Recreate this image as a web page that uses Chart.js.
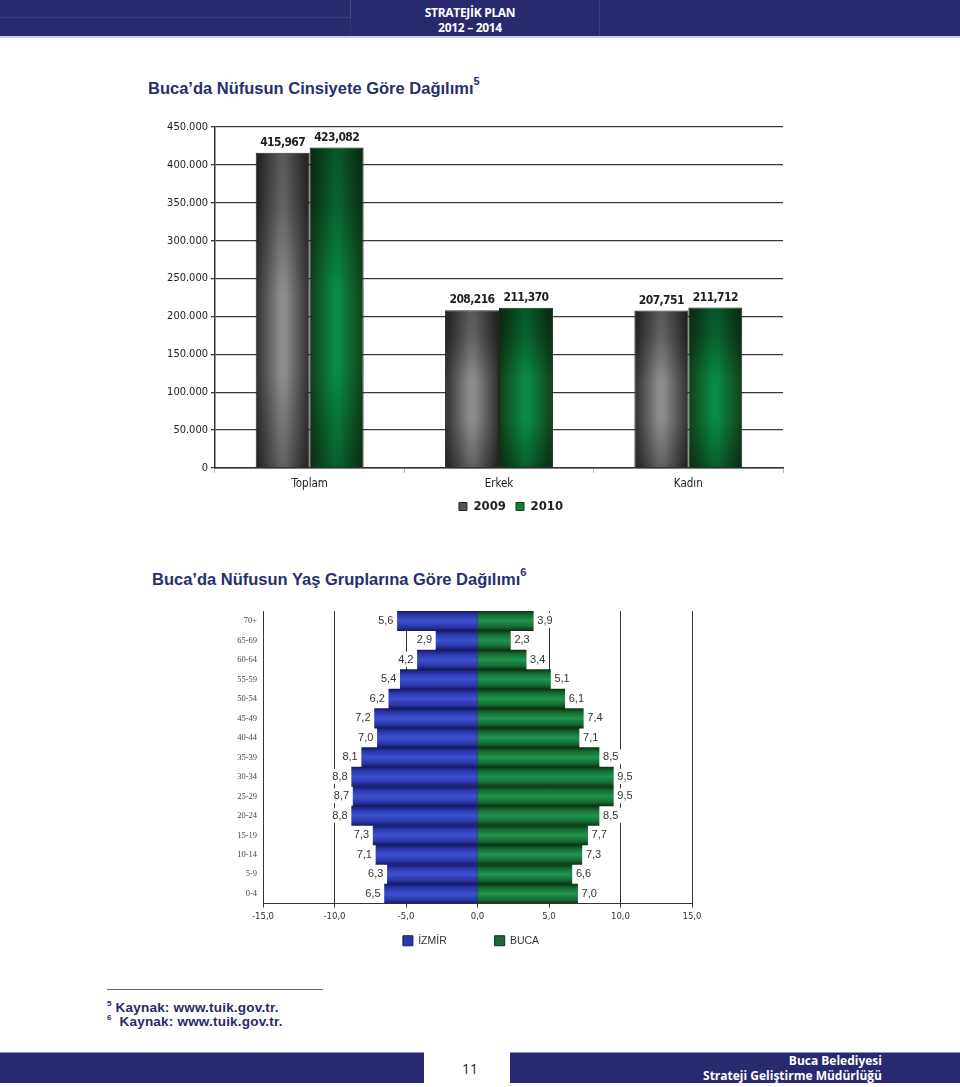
<!DOCTYPE html>
<html><head><meta charset="utf-8">
<script src="https://cdn.jsdelivr.net/npm/chart.js@4.4.1/dist/chart.umd.min.js"></script>
<style>
html,body{margin:0;padding:0;background:#fff;}
body{width:960px;height:1087px;position:relative;overflow:hidden;font-family:"Liberation Sans",Arial,sans-serif;}
.abs{position:absolute;}
#hdr{left:0;top:0;width:960px;height:36px;background:#28296f;border-bottom:2px solid #c9cde6;}
#hdr .p1{position:absolute;left:0;top:0;width:350px;height:17px;border-bottom:1px solid rgba(255,255,255,0.10);border-right:1px solid rgba(255,255,255,0.10);}
#hdr .p2{position:absolute;left:350px;top:0;width:248px;height:36px;border-right:1px solid rgba(255,255,255,0.10);border-left:1px solid rgba(255,255,255,0.06);}
#hdr .t{position:absolute;left:370px;width:200px;text-align:center;color:#fff;font-family:"Open Sans","DejaVu Sans",sans-serif;font-weight:700;font-size:12px;letter-spacing:-0.3px;}
.title{color:#27306e;font-weight:700;font-size:16.5px;font-family:"Liberation Sans",Arial,sans-serif;white-space:nowrap;}
.title sup{font-size:11px;position:relative;top:-2px;}
.fn{color:#27296b;font-weight:700;font-size:13.5px;font-family:"Liberation Sans",Arial,sans-serif;white-space:nowrap;letter-spacing:0.2px;}
.fn sup{font-size:8px;}
.bar{background:#28296f;}
.ft{color:#fff;font-weight:700;font-size:12px;font-family:"Open Sans","DejaVu Sans",sans-serif;text-align:right;white-space:nowrap;}
</style></head>
<body>
<div id="hdr" class="abs"><div class="p1"></div><div class="p2"></div>
<div class="t" style="top:4px;">STRATEJİK PLAN</div>
<div class="t" style="top:19px;">2012 – 2014</div></div>

<div class="abs title" style="left:148px;top:77px;">Buca’da Nüfusun Cinsiyete Göre Dağılımı<sup>5</sup></div>
<div class="abs" style="left:140px;top:112px;width:742px;height:411px;"><canvas id="c1"></canvas></div>

<div class="abs title" style="left:152px;top:568px;">Buca’da Nüfusun Yaş Gruplarına Göre Dağılımı<sup>6</sup></div>
<div class="abs" style="left:215px;top:600px;width:512px;height:356px;"><canvas id="c2"></canvas></div>

<div class="abs" style="left:107px;top:989px;width:216px;height:0;border-top:1.5px solid #666;"></div>
<div class="abs fn" style="left:107px;top:999px;"><sup>5</sup> Kaynak: www.tuik.gov.tr.</div>
<div class="abs fn" style="left:107px;top:1013px;"><sup>6</sup>&nbsp; Kaynak: www.tuik.gov.tr.</div>

<div class="abs bar" style="left:0;top:1052px;width:424px;height:30px;border-top:1px solid #8d90c0;"></div>
<div class="abs" style="left:452px;top:1059px;width:36px;text-align:center;font-size:14px;font-family:'Open Sans','DejaVu Sans',sans-serif;color:#222;">11</div>
<div class="abs bar" style="left:510px;top:1052px;width:450px;height:30px;border-top:1px solid #8d90c0;"></div>
<div class="abs ft" style="left:560px;top:1052px;width:322px;">Buca Belediyesi</div>
<div class="abs ft" style="left:560px;top:1067px;width:322px;">Strateji Geliştirme Müdürlüğü</div>

<script>
// ---- Data: chart 1 ----
const sexCategories = ['Toplam', 'Erkek', 'Kadın'];
const pop2009 = [415967, 208216, 207751];
const pop2010 = [423082, 211370, 211712];
const seriesNames1 = ['2009', '2010'];

// ---- Data: chart 2 ----
const ageGroups = ['70+', '65-69', '60-64', '55-59', '50-54', '45-49', '40-44', '35-39', '30-34', '25-29', '20-24', '15-19', '10-14', '5-9', '0-4'];
const izmirShare = [5.6, 2.9, 4.2, 5.4, 6.2, 7.2, 7.0, 8.1, 8.8, 8.7, 8.8, 7.3, 7.1, 6.3, 6.5];
const bucaShare = [3.9, 2.3, 3.4, 5.1, 6.1, 7.4, 7.1, 8.5, 9.5, 9.5, 8.5, 7.7, 7.3, 6.6, 7.0];
const seriesNames2 = ['İZMİR', 'BUCA'];

const NARROW = '"Liberation Sans Narrow", "DejaVu Sans Condensed", Arial, sans-serif';

// ---------- chart 1 ----------
const CAT_PCT = 0.57;
function hGrad(ctx, stops, fallback) {
  const chart = ctx.chart, xs = chart.scales.x;
  if (!xs || ctx.dataIndex === undefined || !isFinite(xs.width) || xs.width <= 0) return fallback;
  const catW = xs.width / sexCategories.length;
  const bw = catW * CAT_PCT / 2;
  const c = xs.getPixelForValue(ctx.dataIndex) + (ctx.datasetIndex === 0 ? -bw / 2 : bw / 2);
  const g = chart.ctx.createLinearGradient(c - bw / 2, 0, c + bw / 2, 0);
  stops.forEach(s => g.addColorStop(s[0], s[1]));
  return g;
}
const grayStops = [[0, '#2e2e2e'], [0.45, '#8c8c8c'], [0.55, '#8c8c8c'], [1, '#2e2e2e']];
const greenStops = [[0, '#123d1a'], [0.45, '#0a8a42'], [0.55, '#0a8a42'], [1, '#123d1a']];

const valueLabels1 = {
  id: 'valueLabels1',
  afterDatasetsDraw(chart) {
    const c = chart.ctx;
    c.save();
    // vertical shading over each bar (darker top and bottom)
    chart.data.datasets.forEach((ds, di) => {
      chart.getDatasetMeta(di).data.forEach((el) => {
        const top = el.y, bot = el.base, w = el.width;
        const g = c.createLinearGradient(0, top, 0, bot);
        g.addColorStop(0, 'rgba(0,0,0,0.38)');
        g.addColorStop(0.18, 'rgba(0,0,0,0.30)');
        g.addColorStop(0.45, 'rgba(0,0,0,0)');
        g.addColorStop(0.7, 'rgba(0,0,0,0)');
        g.addColorStop(1, 'rgba(0,0,0,0.32)');
        c.fillStyle = g;
        c.fillRect(el.x - w / 2 + 1, top + 1, w - 2, bot - top - 1);
      });
    });
    c.font = 'bold 12px ' + NARROW;
    if ('letterSpacing' in c) c.letterSpacing = '-0.6px';
    c.fillStyle = '#1e1e1e';
    c.textAlign = 'center';
    c.textBaseline = 'bottom';
    chart.data.datasets.forEach((ds, di) => {
      chart.getDatasetMeta(di).data.forEach((el, i) => {
        c.fillText(ds.data[i].toLocaleString('en-US'), el.x, el.y - 4);
      });
    });
    c.restore();
  }
};

new Chart(document.getElementById('c1'), {
  type: 'bar',
  data: {
    labels: sexCategories,
    datasets: [
      { label: seriesNames1[0], data: pop2009, backgroundColor: ctx => hGrad(ctx, grayStops, '#555'), borderColor: '#262626', borderWidth: 1 },
      { label: seriesNames1[1], data: pop2010, backgroundColor: ctx => hGrad(ctx, greenStops, '#1a6b35'), borderColor: '#0f2e14', borderWidth: 1 }
    ]
  },
  options: {
    responsive: true, maintainAspectRatio: false, animation: false,
    layout: { padding: { top: 15, left: 0, right: 0, bottom: 0 } },
    datasets: { bar: { categoryPercentage: CAT_PCT, barPercentage: 1 } },
    plugins: {
      tooltip: { enabled: false },
      legend: {
        position: 'bottom',
        labels: {
          boxWidth: 8, boxHeight: 8, padding: 10, color: '#222',
          font: { family: NARROW, size: 13, weight: 'bold' },
          generateLabels: chart => Chart.defaults.plugins.legend.labels.generateLabels(chart).map((l, i) => ({
            ...l, fillStyle: i === 0 ? '#555' : '#1a7a3c', strokeStyle: i === 0 ? '#222' : '#0f3d18', lineWidth: 1
          }))
        }
      }
    },
    scales: {
      x: {
        grid: { display: true, offset: true, drawOnChartArea: false, tickLength: 5, color: '#bbb' },
        border: { display: true, color: '#333', width: 1.5 },
        ticks: { color: '#222', font: { family: NARROW, size: 11.5 }, padding: 4 },
        afterFit: s => { s.height = 22; }
      },
      y: {
        min: 0, max: 450000,
        ticks: { stepSize: 50000, color: '#222', font: { family: NARROW, size: 11 }, padding: 3,
          callback: v => v === 0 ? '0' : v.toLocaleString('de-DE') },
        grid: { color: '#3a3a3a', lineWidth: 1.3, tickLength: 4 },
        border: { display: true, color: '#333', width: 1.5 },
        afterFit: s => { s.width = 75; }
      },
      ySpacer: {
        type: 'linear', position: 'right', display: true,
        grid: { display: false }, border: { display: false }, ticks: { display: false },
        afterFit: s => { s.width = 99; }
      }
    }
  },
  plugins: [valueLabels1]
});

// ---------- chart 2 ----------
function vGrad(ctx, stops, fallback) {
  const chart = ctx.chart, ys = chart.scales.y;
  if (!ys || ctx.dataIndex === undefined || !isFinite(ys.height) || ys.height <= 0) return fallback;
  const h = ys.height / ageGroups.length;
  const c = ys.getPixelForValue(ctx.dataIndex);
  const g = chart.ctx.createLinearGradient(0, c - h / 2, 0, c + h / 2);
  stops.forEach(s => g.addColorStop(s[0], s[1]));
  return g;
}
const blueStops = [[0, '#141a66'], [0.2, '#2a38aa'], [0.5, '#3d50cf'], [0.8, '#2a38aa'], [1, '#141a66']];
const green2Stops = [[0, '#0b3314'], [0.2, '#166b32'], [0.5, '#1f9450'], [0.8, '#166b32'], [1, '#0b3314']];

const valueLabels2 = {
  id: 'valueLabels2',
  afterDatasetsDraw(chart) {
    const c = chart.ctx;
    c.save();
    c.font = '11px "Liberation Sans", Arial, sans-serif';
    c.textBaseline = 'middle';
    chart.data.datasets.forEach((ds, di) => {
      chart.getDatasetMeta(di).data.forEach((el, i) => {
        const t = Math.abs(ds.data[i]).toFixed(1).replace('.', ',');
        const w = c.measureText(t).width;
        let x0;
        if (di === 0) x0 = el.x - 4 - w; else x0 = el.x + 4;
        c.fillStyle = '#fff';
        c.fillRect(x0 - 3, el.y - 8, w + 6, 15);
        c.fillStyle = '#333';
        c.textAlign = 'left';
        c.fillText(t, x0, el.y);
      });
    });
    c.restore();
  }
};

new Chart(document.getElementById('c2'), {
  type: 'bar',
  data: {
    labels: ageGroups,
    datasets: [
      { label: seriesNames2[0], data: izmirShare.map(v => -v), backgroundColor: ctx => vGrad(ctx, blueStops, '#2a38aa'), borderWidth: 0 },
      { label: seriesNames2[1], data: bucaShare, backgroundColor: ctx => vGrad(ctx, green2Stops, '#166b32'), borderWidth: 0 }
    ]
  },
  options: {
    indexAxis: 'y',
    responsive: true, maintainAspectRatio: false, animation: false,
    layout: { padding: { top: 7, left: 0, right: 0, bottom: 0 } },
    datasets: { bar: { categoryPercentage: 1, barPercentage: 1 } },
    plugins: {
      tooltip: { enabled: false },
      legend: {
        position: 'bottom',
        labels: {
          boxWidth: 10, boxHeight: 10, padding: 10, color: '#333',
          font: { family: '"Liberation Sans", Arial, sans-serif', size: 10.5 },
          generateLabels: chart => Chart.defaults.plugins.legend.labels.generateLabels(chart).map((l, i) => ({
            ...l, text: i === 0 ? l.text + '             ' : l.text,
            fillStyle: i === 0 ? '#2a38aa' : '#1a6b35', strokeStyle: i === 0 ? '#141a66' : '#0b3314', lineWidth: 1
          }))
        }
      }
    },
    scales: {
      x: {
        stacked: true, min: -15, max: 15,
        ticks: { stepSize: 5, color: '#333', font: { family: NARROW, size: 9.5 }, padding: 3,
          callback: v => v.toFixed(1).replace('.', ',') },
        grid: { color: '#333', lineWidth: 1, tickLength: 4 },
        border: { display: true, color: '#333', width: 1 },
        afterFit: s => { s.height = 22; }
      },
      y: {
        stacked: true,
        grid: { display: false, drawTicks: false },
        border: { display: false },
        ticks: { color: '#444', font: { family: '"Liberation Serif", "DejaVu Serif", serif', size: 8.5 }, padding: 6 },
        afterFit: s => { s.width = 48; }
      },
      ySpacer: {
        type: 'category', labels: ageGroups, position: 'right', axis: 'y', display: true,
        grid: { display: false }, border: { display: false }, ticks: { display: false },
        afterFit: s => { s.width = 35; }
      }
    }
  },
  plugins: [valueLabels2]
});
</script>
</body></html>
